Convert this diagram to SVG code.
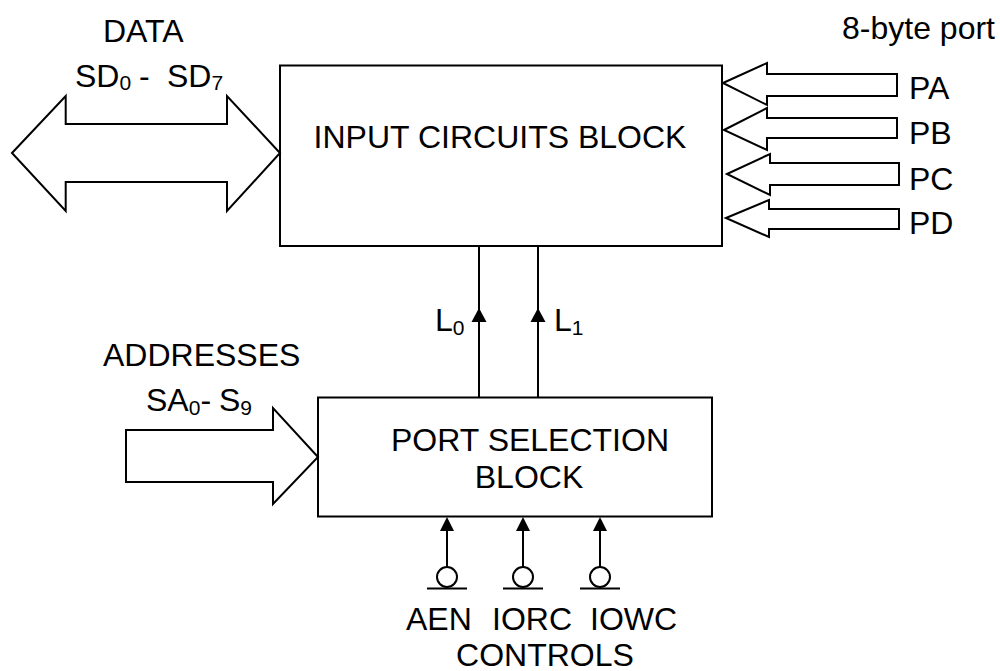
<svg xmlns="http://www.w3.org/2000/svg" width="1000" height="671" viewBox="0 0 1000 671">
<style>
.t{font-family:"Liberation Sans",Arial,sans-serif;font-size:32px;fill:#000}
.b{font-size:21px}
.o{fill:#fff;stroke:#000;stroke-width:2;stroke-linejoin:miter}
.l{stroke:#000;stroke-width:2;fill:none}
.h{fill:#000}
</style>
<rect width="1000" height="671" fill="#fff"/>
<g id="input-block">
<rect class="o" x="280" y="65.5" width="442" height="180.5"/>
<text class="t" x="500" y="148" text-anchor="middle">INPUT CIRCUITS BLOCK</text>
</g>
<g id="port-block">
<rect class="o" x="318" y="397.5" width="394" height="119"/>
<text class="t" x="530" y="451" text-anchor="middle">PORT SELECTION</text>
<text class="t" x="529" y="488" text-anchor="middle">BLOCK</text>
</g>
<g id="data">
<polygon class="o" points="12,153 65.7,96 65.7,124 227,124 227,96 280,153 227,211 227,182 65.7,182 65.7,211"/>
<text class="t" x="103" y="42">DATA</text>
<text class="t" x="75" y="87">SD<tspan class="b" dy="3">0</tspan><tspan x="139" dy="-3">-</tspan><tspan x="167">SD</tspan><tspan class="b" dy="3">7</tspan></text>
</g>
<g id="ports">
<text class="t" x="842" y="39">8-byte port</text>
<polygon class="o" points="723,83 767,63 767,74 897,74 897,96 767,96 767,105"/>
<polygon class="o" points="724,130 767,108 767,118 897,118 897,138 767,138 767,150"/>
<polygon class="o" points="727,174 770,154 770,163 899,163 899,185 770,185 770,195"/>
<polygon class="o" points="726,218 769,200 769,209 899,209 899,229 769,229 769,237"/>
<text class="t" x="909" y="99">PA</text>
<text class="t" x="909" y="144">PB</text>
<text class="t" x="909" y="190">PC</text>
<text class="t" x="909" y="234">PD</text>
</g>
<g id="addresses">
<polygon class="o" points="126,430 273,430 273,408 318,457 273,504 273,482 126,482"/>
<text class="t" x="103" y="366">ADDRESSES</text>
<text class="t" x="146" y="411">SA<tspan class="b" dy="4">0</tspan><tspan dy="-4">-</tspan><tspan x="219">S</tspan><tspan class="b" dy="4">9</tspan></text>
</g>
<g id="connectors">
<line class="l" x1="479" y1="397" x2="479" y2="246"/>
<line class="l" x1="538" y1="397" x2="538" y2="246"/>
<polygon class="h" points="479,308 471.5,322 486.5,322"/>
<polygon class="h" points="538,308 530.5,322 545.5,322"/>
<line class="l" x1="447" y1="567" x2="447" y2="525"/>
<line class="l" x1="523" y1="567" x2="523" y2="525"/>
<line class="l" x1="600" y1="567" x2="600" y2="525"/>
<polygon class="h" points="447,517 440,531 454,531"/>
<polygon class="h" points="523,517 516,531 530,531"/>
<polygon class="h" points="600,517 593,531 607,531"/>
</g>
<g id="line-labels">
<text class="t" x="435" y="331">L<tspan class="b" dy="4">0</tspan></text>
<text class="t" x="554" y="331">L<tspan class="b" dy="4">1</tspan></text>
</g>
<g id="controls">
<circle class="o" cx="447" cy="577" r="10"/>
<circle class="o" cx="523" cy="577" r="10"/>
<circle class="o" cx="600" cy="577" r="10"/>
<line class="l" x1="427" y1="588.5" x2="467" y2="588.5"/>
<line class="l" x1="503" y1="588.5" x2="543" y2="588.5"/>
<line class="l" x1="580" y1="588.5" x2="620" y2="588.5"/>
<text class="t" x="406" y="630">AEN</text>
<text class="t" x="492" y="630">IORC</text>
<text class="t" x="590" y="630">IOWC</text>
<text class="t" x="545" y="666" text-anchor="middle">CONTROLS</text>
</g>
</svg>
